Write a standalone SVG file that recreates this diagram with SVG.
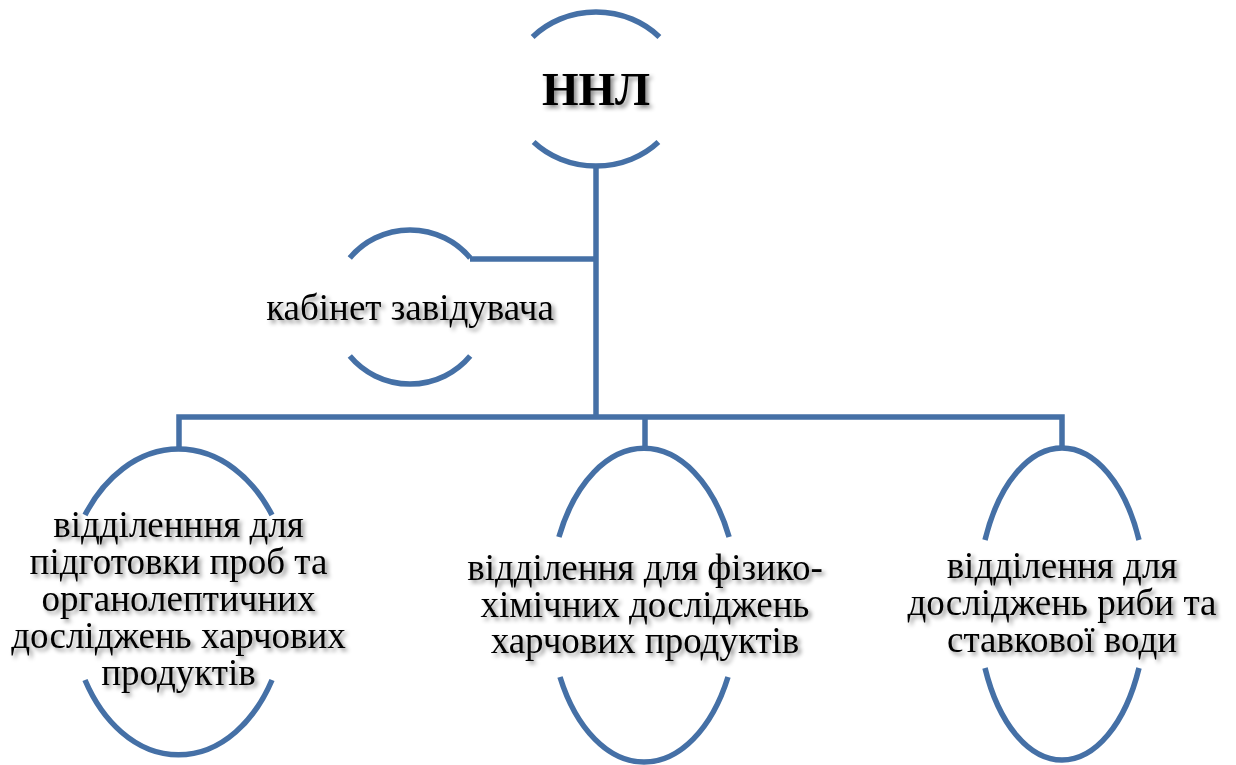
<svg xmlns="http://www.w3.org/2000/svg" width="1236" height="765" viewBox="0 0 1236 765">
<defs>
<filter id="sh" x="-10%" y="-30%" width="130%" height="170%">
<feDropShadow dx="3" dy="3" stdDeviation="2.2" flood-color="#000" flood-opacity="0.45"/>
</filter>
<style>
.ln{fill:none;stroke:#4570a6;stroke-width:5.5;}
.t{font-family:"Liberation Serif","Times New Roman",serif;font-size:37px;fill:#000;text-anchor:middle;filter:url(#sh);}
.b{font-weight:bold;font-size:47px;}
</style>
</defs>
<rect width="1236" height="765" fill="#fff"/>
<g id="connectors">
<path class="ln" d="M596,166 V417"/>
<path class="ln" d="M470,259 H596"/>
<path class="ln" d="M179,449 V417 H1062 V447"/>
<path class="ln" d="M645,417 V448"/>
</g>
<g id="node-nnl">
<path class="ln" d="M532.6,37 A86,77 0 0 1 659.4,37"/>
<path class="ln" d="M533.6,142 A86,77 0 0 0 658.4,142"/>
<text class="t b" x="596" y="105">ННЛ</text>
</g>
<g id="node-cabinet">
<path class="ln" d="M349.8,258 A78,77 0 0 1 470.2,258"/>
<path class="ln" d="M349.8,356 A78,77 0 0 0 470.2,356"/>
<text class="t" x="410" y="320">кабінет завідувача</text>
</g>
<g id="node-1">
<path class="ln" d="M85,515 A114,154 0 0 1 272,515"/>
<path class="ln" d="M85,680 A109,154 0 0 0 272,680"/>
<text class="t" x="178.5" y="537">відділенння для</text>
<text class="t" x="178.5" y="574">підготовки проб та</text>
<text class="t" x="178.5" y="611">органолептичних</text>
<text class="t" x="178.5" y="648">досліджень харчових</text>
<text class="t" x="178.5" y="685">продуктів</text>
</g>
<g id="node-2">
<path class="ln" d="M558.9,537 A94.5,157 0 0 1 729.1,537"/>
<path class="ln" d="M560,677 A94.5,157 0 0 0 728,677"/>
<text class="t" x="645" y="580">відділення для фізико-</text>
<text class="t" x="645" y="617">хімічних досліджень</text>
<text class="t" x="645" y="653">харчових продуктів</text>
</g>
<g id="node-3">
<path class="ln" d="M985,540 A84.5,156.5 0 0 1 1139,540"/>
<path class="ln" d="M985,668 A84.5,156.5 0 0 0 1139,668"/>
<text class="t" x="1062" y="578">відділення для</text>
<text class="t" x="1062" y="615">досліджень риби та</text>
<text class="t" x="1062" y="652">ставкової води</text>
</g>
</svg>
